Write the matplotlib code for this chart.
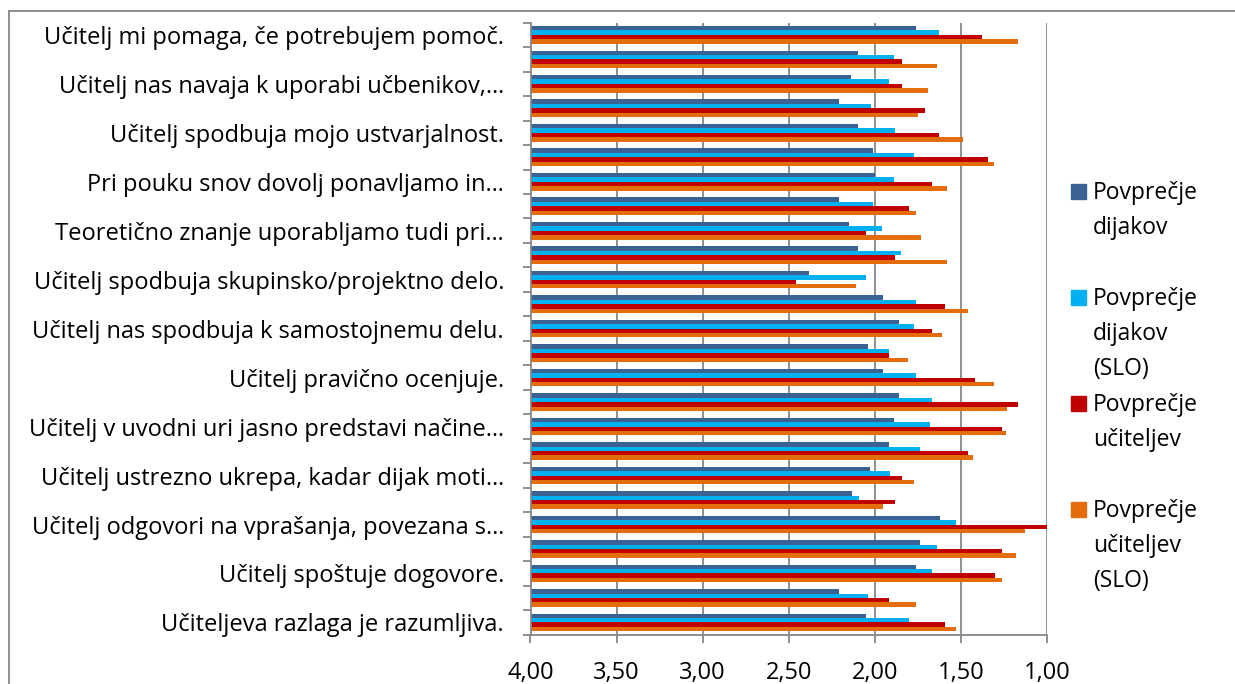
import textwrap
import numpy as np
import matplotlib
matplotlib.use("Agg")
import matplotlib.pyplot as plt
from matplotlib.patches import Rectangle

plt.rcParams['font.family'] = ['Open Sans', 'DejaVu Sans']

# visible category labels (every second category, top to bottom)
labels = [
    "Učitelj mi pomaga, če potrebujem pomoč.",
    "Učitelj nas navaja k uporabi učbenikov,…",
    "Učitelj spodbuja mojo ustvarjalnost.",
    "Pri pouku snov dovolj ponavljamo in…",
    "Teoretično znanje uporabljamo tudi pri…",
    "Učitelj spodbuja skupinsko/projektno delo.",
    "Učitelj nas spodbuja k samostojnemu delu.",
    "Učitelj pravično ocenjuje.",
    "Učitelj v uvodni uri jasno predstavi načine…",
    "Učitelj ustrezno ukrepa, kadar dijak moti…",
    "Učitelj odgovori na vprašanja, povezana s…",
    "Učitelj spoštuje dogovore.",
    "Učiteljeva razlaga je razumljiva.",
]

series_names = ["Povprečje dijakov", "Povprečje dijakov (SLO)",
                "Povprečje učiteljev", "Povprečje učiteljev (SLO)"]
colors = ["#3A6394", "#00B0F0", "#C00000", "#E46C0A"]

# values for all 25 categories, top to bottom
dijaki = [1.76, 2.10, 2.14, 2.21, 2.10, 2.01, 2.00, 2.21, 2.15, 2.10, 2.38, 1.95, 1.86,
          2.04, 1.95, 1.86, 1.89, 1.92, 2.03, 2.13, 1.62, 1.74, 1.76, 2.21, 2.05]
dijaki_slo = [1.63, 1.89, 1.92, 2.02, 1.88, 1.77, 1.89, 2.01, 1.96, 1.85, 2.05, 1.76, 1.77,
              1.92, 1.76, 1.67, 1.68, 1.74, 1.91, 2.09, 1.53, 1.64, 1.67, 2.04, 1.80]
ucitelji = [1.38, 1.84, 1.84, 1.71, 1.63, 1.34, 1.67, 1.80, 2.05, 1.88, 2.46, 1.59, 1.67,
            1.92, 1.42, 1.17, 1.26, 1.46, 1.84, 1.88, 1.00, 1.26, 1.30, 1.92, 1.59]
ucitelji_slo = [1.17, 1.64, 1.69, 1.75, 1.49, 1.31, 1.58, 1.76, 1.73, 1.58, 2.11, 1.46, 1.61,
                1.81, 1.31, 1.23, 1.24, 1.43, 1.77, 1.95, 1.13, 1.18, 1.26, 1.76, 1.53]

xticks = [4.0, 3.5, 3.0, 2.5, 2.0, 1.5, 1.0]

fig = plt.figure(figsize=(12.35, 6.84), dpi=100)
ax = fig.add_axes([530.5/1235, 1-634.7/684, (1047-530.5)/1235, (634.7-22.6)/684])

n = len(dijaki)
y = np.arange(n)
h = 0.18
for k, (vals, c) in enumerate(zip([dijaki, dijaki_slo, ucitelji, ucitelji_slo], colors)):
    vals = np.array(vals)
    ax.barh(y - 0.27 + k*h, vals - 4, left=4, height=h, color=c, zorder=2)

ax.set_xlim(4, 1)
ax.set_ylim(n - 0.5, -0.5)
ax.set_xticks(xticks)
ax.set_xticklabels([f"{t:.2f}".replace(".", ",") for t in xticks], fontsize=17)
ax.set_yticks(y[::2])
ax.set_yticklabels(labels, fontsize=17)
ax.set_yticks(np.arange(n + 1) - 0.5, minor=True)
ax.tick_params(axis='y', which='major', length=0, pad=19)
ax.tick_params(axis='y', which='minor', length=6, width=1.3, color="#878787")
ax.tick_params(axis='x', length=6, width=1.3, color="#878787", pad=13)
ax.grid(axis='x', color="#878787", lw=1.3)
ax.set_axisbelow(True)
for s in ['top', 'right']:
    ax.spines[s].set_visible(False)
for s in ['left', 'bottom']:
    ax.spines[s].set_color("#878787")
    ax.spines[s].set_linewidth(1.3)

# legend
leg_y = [191, 297, 403, 509]
for name, c, ly in zip(series_names, colors, leg_y):
    fig.patches.append(Rectangle((1071/1235, 1-(ly+7.5)/684), 15/1235, 15/684,
                                 transform=fig.transFigure, color=c))
    fig.text(1093/1235, 1-(ly-10)/684, textwrap.fill(name, 10), fontsize=16.5,
             va='top', ha='left', linespacing=1.6)

# chart border
fig.patches.append(Rectangle((9/1235, -0.1), 1.2, 1-11/684+0.1, transform=fig.transFigure,
                             fill=False, edgecolor="#878787", lw=1.3))

fig.savefig("out.png", dpi=100)
